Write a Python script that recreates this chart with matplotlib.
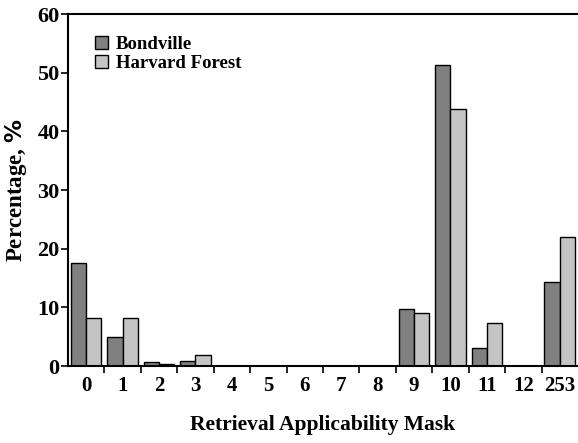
import numpy as np
import matplotlib.pyplot as plt

# Data
masks = ['0', '1', '2', '3', '4', '5', '6', '7', '8', '9', '10', '11', '12', '253']
bondville = [17.6, 5.0, 0.6, 0.9, 0, 0, 0, 0, 0, 9.8, 51.4, 3.1, 0, 14.3]
harvard = [8.2, 8.2, 0.4, 1.8, 0, 0, 0, 0, 0, 9.0, 43.9, 7.3, 0, 22.0]

plt.rcParams['font.family'] = ['Liberation Serif', 'DejaVu Serif']
plt.rcParams['font.weight'] = 'bold'

fig = plt.figure(figsize=(5.78, 4.43), dpi=100)
ax = fig.add_axes([0.1176, 0.1738, 0.8824, 0.7944])

x = np.arange(len(masks))
w = 0.42
ax.bar(x - w / 2, bondville, w, color='#808080', edgecolor='black', linewidth=1, label='Bondville')
ax.bar(x + w / 2, harvard, w, color='#c4c4c4', edgecolor='black', linewidth=1, label='Harvard Forest')

ax.set_xlim(-0.5, len(masks) - 0.5)
ax.set_ylim(0, 60)
ax.set_yticks(range(0, 61, 10))

# category labels in the middle, tick marks on the boundaries
ax.set_xticks(x)
ax.set_xticklabels(masks)
ax.set_xticks(np.arange(0.5, len(masks) - 0.5, 1), minor=True)
ax.tick_params(axis='x', which='major', length=0, labelsize=15, pad=7)
ax.tick_params(axis='x', which='minor', length=5, width=1.2, direction='out')
ax.tick_params(axis='y', length=5, width=1.2, direction='out', labelsize=16, pad=1)

for s in ax.spines.values():
    s.set_linewidth(1.5)
ax.spines['right'].set_visible(False)

ax.set_ylabel('Percentage, $\\mathit{\\%}$', fontsize=16.5, fontweight='bold', labelpad=6)
ax.set_xlabel('Retrieval Applicability Mask', fontsize=15.5, fontweight='bold', labelpad=14)

ax.legend(loc='upper left', bbox_to_anchor=(0.02, 0.985), frameon=False, fontsize=13.5,
          handlelength=0.7, handleheight=0.7, handletextpad=0.4, labelspacing=0.1)

plt.savefig('out.png', dpi=100)
